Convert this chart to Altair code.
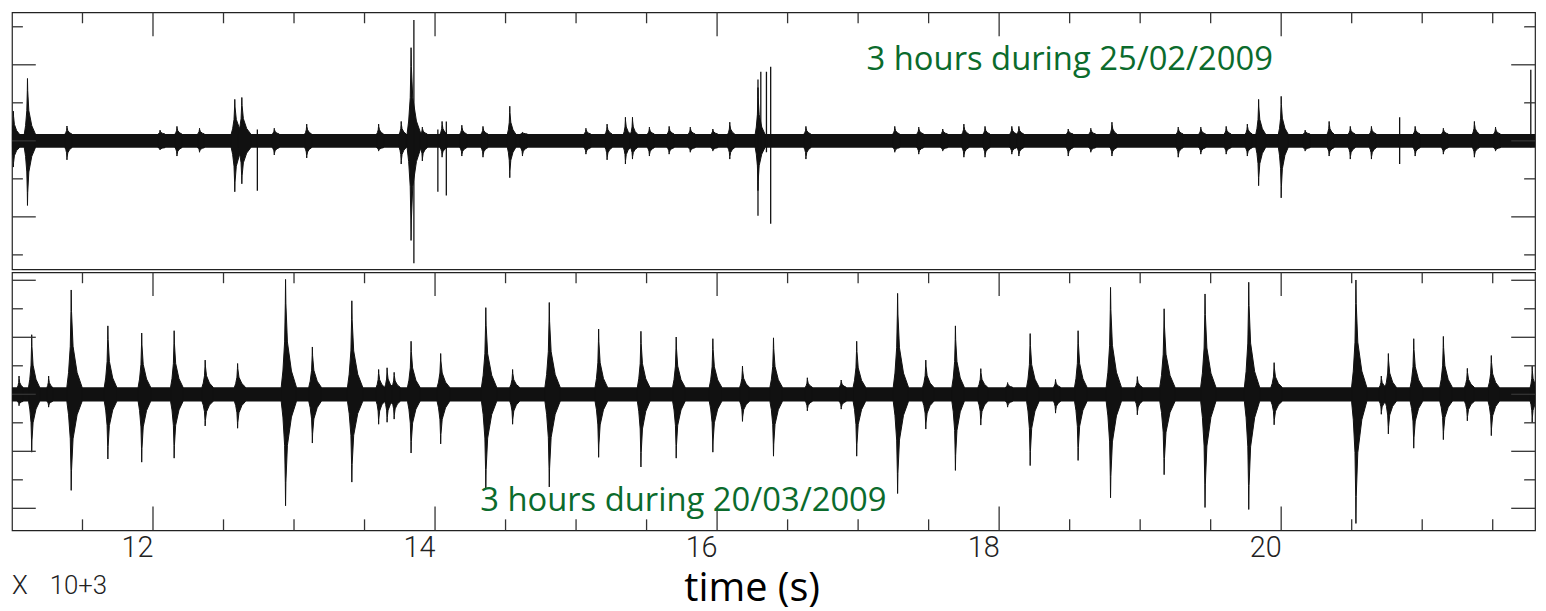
import altair as alt
import pandas as pd

# ---------------- data ----------------
X_DOMAIN = [11.0, 21.8]          # time x 10^3 s
TOP_DOMAIN = [-3.38, 3.38]       # amplitude (tick units)
BOT_DOMAIN = [-4.77, 4.28]

# 25/02/2009 trace: events (time, upper envelope, lower envelope, duration)
top_t = [11.01, 11.11, 11.39, 12.05, 12.17, 12.33, 12.58, 12.63, 12.86, 13.09,
         13.60, 13.76, 13.83, 13.91, 14.05, 14.19, 14.34, 14.53, 14.62, 15.07,
         15.22, 15.35, 15.40, 15.52, 15.66, 15.81, 15.97, 16.09, 16.29, 16.63,
         17.26, 17.43, 17.60, 17.75, 17.90, 18.09, 18.14, 18.49, 18.65, 18.80,
         19.27, 19.43, 19.61, 19.76, 19.84, 20.00, 20.17, 20.34, 20.49, 20.64,
         20.95, 21.15, 21.37, 21.52]
top_up = [0.78, 1.64, 0.39, 0.28, 0.38, 0.33, 1.09, 1.14, 0.33, 0.44,
          0.44, 0.51, 2.45, 0.36, 0.51, 0.41, 0.38, 0.91, 0.23, 0.33,
          0.44, 0.62, 0.62, 0.36, 0.38, 0.36, 0.31, 0.49, 1.40, 0.38,
          0.38, 0.36, 0.31, 0.44, 0.38, 0.38, 0.38, 0.31, 0.33, 0.49,
          0.36, 0.36, 0.38, 0.44, 1.09, 1.17, 0.28, 0.51, 0.38, 0.38,
          0.38, 0.33, 0.51, 0.36]
top_dn = [-0.69, -1.70, -0.50, -0.24, -0.40, -0.30, -1.34, -1.13, -0.37, -0.45,
          -0.27, -0.61, -2.62, -0.53, -0.43, -0.40, -0.43, -0.97, -0.40, -0.35,
          -0.50, -0.61, -0.48, -0.40, -0.35, -0.30, -0.27, -0.48, -1.31, -0.48,
          -0.30, -0.35, -0.27, -0.43, -0.43, -0.35, -0.40, -0.40, -0.30, -0.40,
          -0.43, -0.35, -0.35, -0.40, -1.18, -1.50, -0.27, -0.40, -0.48, -0.48,
          -0.40, -0.35, -0.43, -0.27]
top_dur = [0.06, 0.08, 0.05, 0.05, 0.05, 0.05, 0.09, 0.09, 0.05, 0.05,
           0.05, 0.05, 0.10, 0.05, 0.05, 0.05, 0.05, 0.06, 0.05, 0.05,
           0.05, 0.05, 0.05, 0.05, 0.05, 0.05, 0.05, 0.05, 0.07, 0.05,
           0.05, 0.05, 0.05, 0.05, 0.05, 0.05, 0.05, 0.05, 0.05, 0.05,
           0.05, 0.05, 0.05, 0.05, 0.07, 0.07, 0.05, 0.05, 0.05, 0.05,
           0.05, 0.05, 0.05, 0.05]
# instrumental glitches (thin vertical lines)
top_spike_t = [12.74, 13.85, 14.02, 14.08, 16.29, 16.31, 16.35, 16.38, 20.84, 21.77]
top_spike_up = [0.30, 3.18, 0.30, 0.51, 1.61, 1.82, 1.82, 1.95, 0.62, 1.87]
top_spike_dn = [-1.31, -3.22, -1.34, -1.44, -1.97, -0.30, -0.30, -2.18, -0.61, -0.17]
top_noise = [-0.18, 0.18]

# 20/03/2009 trace
bot_t = [11.05, 11.14, 11.26, 11.42, 11.68, 11.92, 12.15, 12.37, 12.60, 12.94,
         13.13, 13.41, 13.60, 13.66, 13.71, 13.83, 14.04, 14.36, 14.55, 14.81,
         15.16, 15.46, 15.71, 15.97, 16.18, 16.40, 16.64, 16.88, 16.99, 17.28,
         17.48, 17.69, 17.87, 18.06, 18.22, 18.40, 18.56, 18.79, 18.98, 19.17,
         19.46, 19.77, 19.95, 20.53, 20.71, 20.76, 20.94, 21.15, 21.32, 21.49,
         21.78]
bot_up = [0.64, 2.09, 0.64, 3.66, 2.40, 2.15, 2.23, 1.20, 1.08, 4.03,
          1.66, 3.28, 0.87, 0.93, 0.77, 1.86, 1.43, 3.04, 0.87, 3.22,
          2.29, 2.21, 2.01, 1.95, 0.99, 1.98, 0.58, 0.50, 1.86, 3.54,
          1.20, 2.40, 0.90, 0.41, 2.13, 0.52, 2.23, 3.75, 0.62, 3.00,
          3.52, 3.93, 1.11, 4.01, 0.64, 1.43, 1.95, 2.03, 0.91, 1.36,
          0.99]
bot_dn = [-0.40, -2.03, -0.45, -3.37, -2.27, -2.38, -2.24, -1.11, -1.19, -3.91,
          -1.71, -3.08, -1.05, -0.98, -0.87, -2.06, -1.74, -3.31, -1.05, -3.25,
          -2.21, -2.55, -2.24, -2.03, -0.95, -2.17, -0.58, -0.52, -2.17, -3.48,
          -1.22, -2.67, -1.08, -0.45, -2.50, -0.66, -2.32, -3.63, -0.72, -2.82,
          -3.97, -4.04, -1.07, -4.53, -0.70, -1.39, -1.89, -1.59, -0.93, -1.45,
          -0.99]
bot_dur = [0.04, 0.08, 0.04, 0.11, 0.09, 0.09, 0.09, 0.08, 0.08, 0.11,
           0.09, 0.11, 0.06, 0.06, 0.06, 0.09, 0.09, 0.11, 0.07, 0.11,
           0.09, 0.09, 0.09, 0.09, 0.07, 0.09, 0.05, 0.05, 0.09, 0.11,
           0.08, 0.09, 0.07, 0.05, 0.09, 0.05, 0.09, 0.11, 0.05, 0.11,
           0.11, 0.11, 0.08, 0.11, 0.05, 0.08, 0.09, 0.09, 0.07, 0.08,
           0.05]
bot_noise = [-0.25, 0.25]

# axis ticks / labels
x_ticks = [11.5, 12.0, 12.5, 13.0, 13.5, 14.0, 14.5, 15.0, 15.5, 16.0, 16.5,
           17.0, 17.5, 18.0, 18.5, 19.0, 19.5, 20.0, 20.5, 21.0, 21.5]
x_labels = [12, 14, 16, 18, 20]
top_y_ticks = [-3, -2, -1, 0, 1, 2, 3]
bot_y_ticks = [-4, -3, -2, -1, 0, 1, 2, 3, 4]

top_note = ["3 hours during 25/02/2009"]
top_note_pos = [17.06, 1.85]
bot_note = ["3 hours during 20/03/2009"]
bot_note_pos = [14.32, -4.08]
x_title = ["time (s)"]
x_mult = ["X", "10+3"]

# ---------------- styling ----------------
W = 1535
H_TOP = 259
H_BOT = 260
GREEN = "#0b6b2c"
INK = "#111111"
FRAME = "#222222"
TICK_SHORT = 11
TICK_LONG = 24
THIN = "Roboto"
# envelope glyph of one event (relative time in durations, fraction of amplitude)
SHAPE_DX = [-0.28, -0.17, -0.06, -0.015, 0.0, 0.02, 0.12, 0.38, 0.7]
SHAPE_F = [0.0, 0.15, 0.42, 0.78, 1.0, 0.78, 0.42, 0.15, 0.0]


def event_table(ts, ups, dns, durs, noise):
    rows = []
    lo, hi = noise
    for i, (t, u, d, w) in enumerate(zip(ts, ups, dns, durs)):
        for dx, f in zip(SHAPE_DX, SHAPE_F):
            x = min(max(t + dx * w, X_DOMAIN[0]), X_DOMAIN[1])
            rows.append({"id": i, "t": x,
                         "up": hi + (u - hi) * f, "dn": lo + (d - lo) * f})
    return pd.DataFrame(rows)


def panel(ts, ups, dns, durs, sp_t, sp_u, sp_d, noise, ydom, yticks, height,
          bottom_axis, bottom_ticks):
    xs = alt.Scale(domain=X_DOMAIN, nice=False, zero=False)
    ys = alt.Scale(domain=ydom, nice=False, zero=False)
    if bottom_axis:
        xaxis = alt.Axis(values=x_labels, format="d", title=None, ticks=False,
                         tickSize=0, domain=False, grid=False, labelFont=THIN,
                         labelFontWeight=300, labelFontSize=29,
                         labelColor="#222222", labelAlign="right",
                         labelBaseline="alphabetic", labelPadding=26,
                         labelFlush=False)
    else:
        xaxis = None

    def X(f):
        return alt.X(f, scale=xs, axis=xaxis)

    def Y(f):
        return alt.Y(f, scale=ys, axis=None)

    band = alt.Chart(pd.DataFrame({"t0": [X_DOMAIN[0]], "t1": [X_DOMAIN[1]],
                                   "lo": [noise[0]], "hi": [noise[1]]})).mark_rect(
        color=INK).encode(x=X("t0:Q"), x2="t1:Q", y=Y("lo:Q"), y2="hi:Q")

    ev = alt.Chart(event_table(ts, ups, dns, durs, noise)).mark_area(
        color=INK, stroke=INK, strokeWidth=1.0, clip=True).encode(
        x=X("t:Q"), y=Y("up:Q"), y2="dn:Q", detail="id:N")

    layers = [band, ev]
    if sp_t:
        sp = alt.Chart(pd.DataFrame({"t": sp_t, "u": sp_u, "d": sp_d})).mark_rule(
            color=INK, strokeWidth=1.3, clip=True).encode(
            x=X("t:Q"), y=Y("u:Q"), y2="d:Q")
        layers.append(sp)

    xt = pd.DataFrame({"t": x_ticks})
    xt["major"] = [v in x_labels for v in x_ticks]
    yt = pd.DataFrame({"v": yticks})
    yt["major"] = [v % 2 == 0 for v in yticks]

    def xtick(major, y0, y1):
        return alt.Chart(xt[xt["major"] == major]).mark_rule(
            color="#333333", strokeWidth=1.3).encode(
            x=X("t:Q"), y=alt.value(y0), y2=alt.value(y1))

    def ytick(major, x0, x1):
        return alt.Chart(yt[yt["major"] == major]).mark_rule(
            color="#333333", strokeWidth=1.3).encode(
            y=Y("v:Q"), x=alt.value(x0), x2=alt.value(x1))

    layers += [xtick(False, 0, TICK_SHORT), xtick(True, 0, TICK_LONG)]
    if bottom_ticks:
        layers += [xtick(False, height, height - TICK_SHORT),
                   xtick(True, height, height - TICK_LONG)]
    layers += [ytick(False, 0, TICK_SHORT), ytick(True, 0, TICK_LONG),
               ytick(False, W, W - TICK_SHORT), ytick(True, W, W - TICK_LONG)]
    return layers, X, Y


top_layers, Xt, Yt = panel(top_t, top_up, top_dn, top_dur, top_spike_t,
                           top_spike_up, top_spike_dn, top_noise, TOP_DOMAIN,
                           top_y_ticks, H_TOP, False, False)
top_text = alt.Chart(pd.DataFrame({"label": top_note, "t": [top_note_pos[0]],
                                   "v": [top_note_pos[1]]})).mark_text(
    font="Open Sans", fontSize=33, color=GREEN, align="left",
    baseline="alphabetic").encode(x=Xt("t:Q"), y=Yt("v:Q"), text="label:N")
top = alt.layer(*top_layers, top_text).properties(width=W, height=H_TOP)

bot_layers, Xb, Yb = panel(bot_t, bot_up, bot_dn, bot_dur, [], [], [],
                           bot_noise, BOT_DOMAIN, bot_y_ticks, H_BOT, True, True)
bot_text = alt.Chart(pd.DataFrame({"label": bot_note, "t": [bot_note_pos[0]],
                                   "v": [bot_note_pos[1]]})).mark_text(
    font="Open Sans", fontSize=33, color=GREEN, align="left",
    baseline="alphabetic").encode(x=Xb("t:Q"), y=Yb("v:Q"), text="label:N")
title_txt = alt.Chart(pd.DataFrame({"label": x_title})).mark_text(
    font="Open Sans", fontSize=40, color="#000000", align="center",
    baseline="alphabetic").encode(
    x=alt.value(746), y=alt.value(331), text="label:N")
mult_x = alt.Chart(pd.DataFrame({"label": [x_mult[0]]})).mark_text(
    font=THIN, fontWeight=300, fontSize=26, color="#222222", align="left",
    baseline="alphabetic").encode(
    x=alt.value(0), y=alt.value(324), text="label:N")
mult_p = alt.Chart(pd.DataFrame({"label": [x_mult[1]]})).mark_text(
    font=THIN, fontWeight=300, fontSize=26, color="#222222", align="left",
    baseline="alphabetic").encode(
    x=alt.value(38), y=alt.value(324), text="label:N")
bot = alt.layer(*bot_layers, bot_text, title_txt, mult_x, mult_p).properties(
    width=W, height=H_BOT)

chart = alt.vconcat(top, bot, spacing=0).properties(
    padding={"left": 2, "top": 0, "right": 1, "bottom": 0},
    background="white",
).configure_view(stroke=FRAME, strokeWidth=1.2)

chart.save("out.html", embed_options={"renderer": "svg", "actions": False})
